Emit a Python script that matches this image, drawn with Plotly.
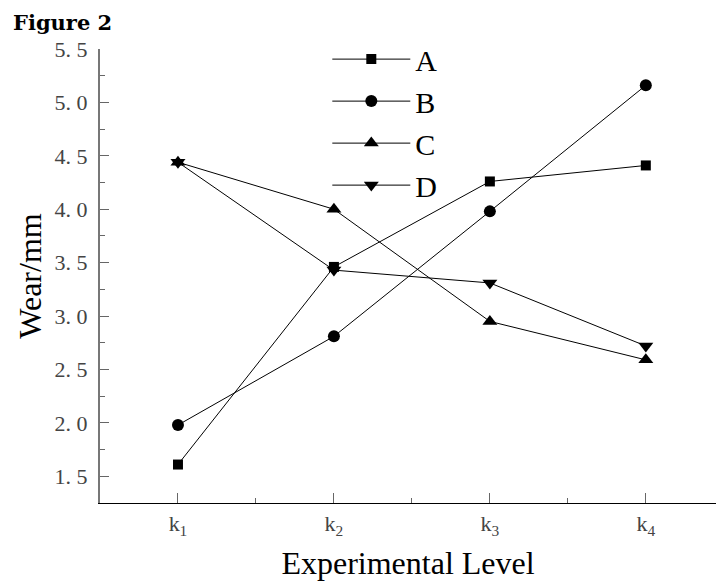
import plotly.graph_objects as go

levels = [1, 2, 3, 4]
level_labels = ["k<sub>1</sub>", "k<sub>2</sub>", "k<sub>3</sub>", "k<sub>4</sub>"]
series_names = ["A", "B", "C", "D"]
wear_A = [1.61, 3.46, 4.26, 4.41]
wear_B = [1.98, 2.81, 3.98, 5.16]
wear_C = [4.44, 4.00, 2.95, 2.59]
wear_D = [4.44, 3.43, 3.31, 2.72]
y_tickvals = [1.5, 2.0, 2.5, 3.0, 3.5, 4.0, 4.5, 5.0, 5.5]
y_ticktext = ["1. 5", "2. 0", "2. 5", "3. 0", "3. 5", "4. 0", "4. 5", "5. 0", "5. 5"]

symbols = ["square", "circle", "triangle-up", "triangle-down"]
sizes = [10, 12, 13, 13]
series = [wear_A, wear_B, wear_C, wear_D]

fig = go.Figure()
for name, vals, sym, sz in zip(series_names, series, symbols, sizes):
    fig.add_trace(go.Scatter(
        x=levels, y=vals, name=name, mode="lines+markers",
        line=dict(color="black", width=1),
        marker=dict(symbol=sym, size=sz, color="black"),
    ))

serif = "Liberation Serif"
fig.update_layout(
    width=716, height=584,
    margin=dict(l=100, r=0, t=49, b=81),
    plot_bgcolor="white", paper_bgcolor="white",
    title=dict(text="<b>Figure 2</b>", x=13/716, xanchor="left", xref="container",
               y=1-23/584, yanchor="middle", yref="container",
               font=dict(family="DejaVu Serif", size=21, color="black")),
    showlegend=True,
    legend=dict(x=0.369, y=1.035, xanchor="left", yanchor="top",
                font=dict(family=serif, size=30, color="black"),
                bgcolor="rgba(0,0,0,0)", itemwidth=78,
                tracegroupgap=0),
    xaxis=dict(range=[0.5, 4.45], tickvals=levels, ticktext=level_labels,
               showline=True, linecolor="black", linewidth=1,
               ticks="inside", ticklen=10, tickcolor="#666", tickwidth=1,
               minor=dict(tickvals=[1.5, 2.5, 3.5], ticks="inside", ticklen=5, tickcolor="#666"),
               showgrid=False, zeroline=False,
               tickfont=dict(family=serif, size=22, color="#444"),
               ticklabelstandoff=1,
               title=dict(text="Experimental Level", font=dict(family=serif, size=32, color="black"),
                          standoff=13)),
    yaxis=dict(range=[1.25, 5.5], tickvals=y_tickvals, ticktext=y_ticktext,
               showline=True, linecolor="#777", linewidth=2,
               ticks="inside", ticklen=9, tickcolor="#666", tickwidth=1,
               minor=dict(tick0=1.25, dtick=0.5, ticks="inside", ticklen=5, tickcolor="#666"),
               showgrid=False, zeroline=False,
               tickfont=dict(family=serif, size=22, color="#444"),
               ticklabelstandoff=6,
               title=dict(text="Wear/mm", font=dict(family=serif, size=32, color="black"),
                          standoff=3)),
)

fig.write_html("out.html", config={"displayModeBar": False},
               post_script="document.body.style.margin='0';")
